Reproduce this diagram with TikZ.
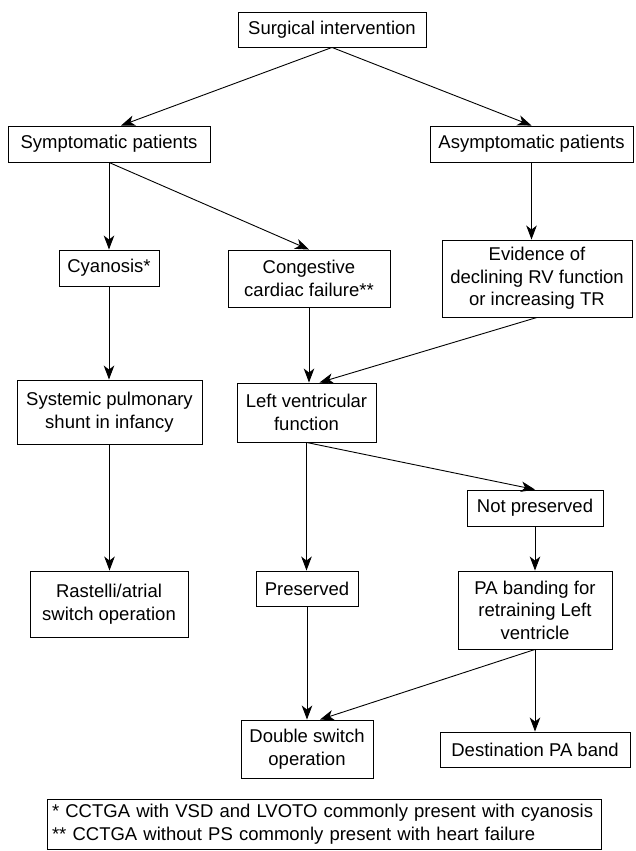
\documentclass[tikz,border=0pt]{standalone}
\usepackage{fontspec}
\setmainfont{Liberation Sans}
\usetikzlibrary{arrows.meta}

\tikzset{
  box/.style={draw, line width=0.9pt, inner xsep=8pt, inner ysep=4pt, align=center,
    font=\fontsize{18.5}{22.5}\selectfont},
  arr/.style={-{Stealth[length=14pt,width=10.5pt,inset=4pt]}, line width=0.9pt},
}

\begin{document}
\begin{tikzpicture}[x=1pt,y=-1pt]
\useasboundingbox (0,0) rectangle (635,851);
% top
\node[box,minimum width=188pt,minimum height=35pt] (surg) at (332,29.5) {Surgical intervention};
\node[box,minimum width=202pt,minimum height=36pt] (symp) at (109,144) {Symptomatic patients};
\node[box,minimum width=203pt,minimum height=36pt] (asym) at (531.5,144) {Asymptomatic patients};
\draw[arr] (surg.south) -- ([xshift=12pt]symp.north);
\draw[arr] (surg.south) -- (asym.north);

% second row
\node[box,minimum width=100pt,minimum height=36pt] (cyan) at (109,268) {Cyanosis*};
\node[box,minimum width=162pt,minimum height=57pt] (cong) at (309,278.5) {Congestive\\cardiac failure**};
\node[box,minimum width=190pt,minimum height=77pt] (evid) at (537,278.5) {Evidence of\\declining RV function\\or increasing TR};
\draw[arr] (symp.south) -- (cong.north);

% third row
\node[box,minimum width=185pt,minimum height=64pt] (syst) at (109.5,412) {Systemic pulmonary\\shunt in infancy};
\node[box,minimum width=139pt,minimum height=59pt] (lvf) at (306.5,412.5) {Left ventricular\\function};
\draw[arr] (evid.south) -- ([xshift=13pt]lvf.north);

% lower rows
\node[box,minimum width=136pt,minimum height=36pt] (notp) at (535,508) {Not preserved};
\node[box,minimum width=158pt,minimum height=66pt] (rast) at (109,604) {Rastelli/atrial\\switch operation};
\node[box,minimum width=102pt,minimum height=35pt] (pres) at (307,588.5) {Preserved};
\node[box,minimum width=154pt,minimum height=78pt] (pab) at (535,610) {PA banding for\\retraining Left\\ventricle};
\node[box,minimum width=132pt,minimum height=58pt] (dbl) at (307,749) {Double switch\\operation};
\node[box,minimum width=190pt,minimum height=35pt] (dest) at (535,749.5) {Destination PA band};
\draw[arr] (lvf.south) -- (notp.north);
\draw[arr] (pab.south) -- ([xshift=13pt]dbl.north);

% straight down
\foreach \a/\b in {symp/cyan,asym/evid,cyan/syst,cong/lvf,syst/rast,lvf/pres,notp/pab,pres/dbl,pab/dest}
  \draw[arr] (\a.south) -- (\a.south |- \b.north);

% footnote
\node[box,align=left,inner xsep=5pt,text width=544pt,minimum height=50pt] (note) at (324,824)
  {* CCTGA with VSD and LVOTO commonly present with cyanosis\\{}%
   ** CCTGA without PS commonly present with heart failure};
\end{tikzpicture}
\end{document}
